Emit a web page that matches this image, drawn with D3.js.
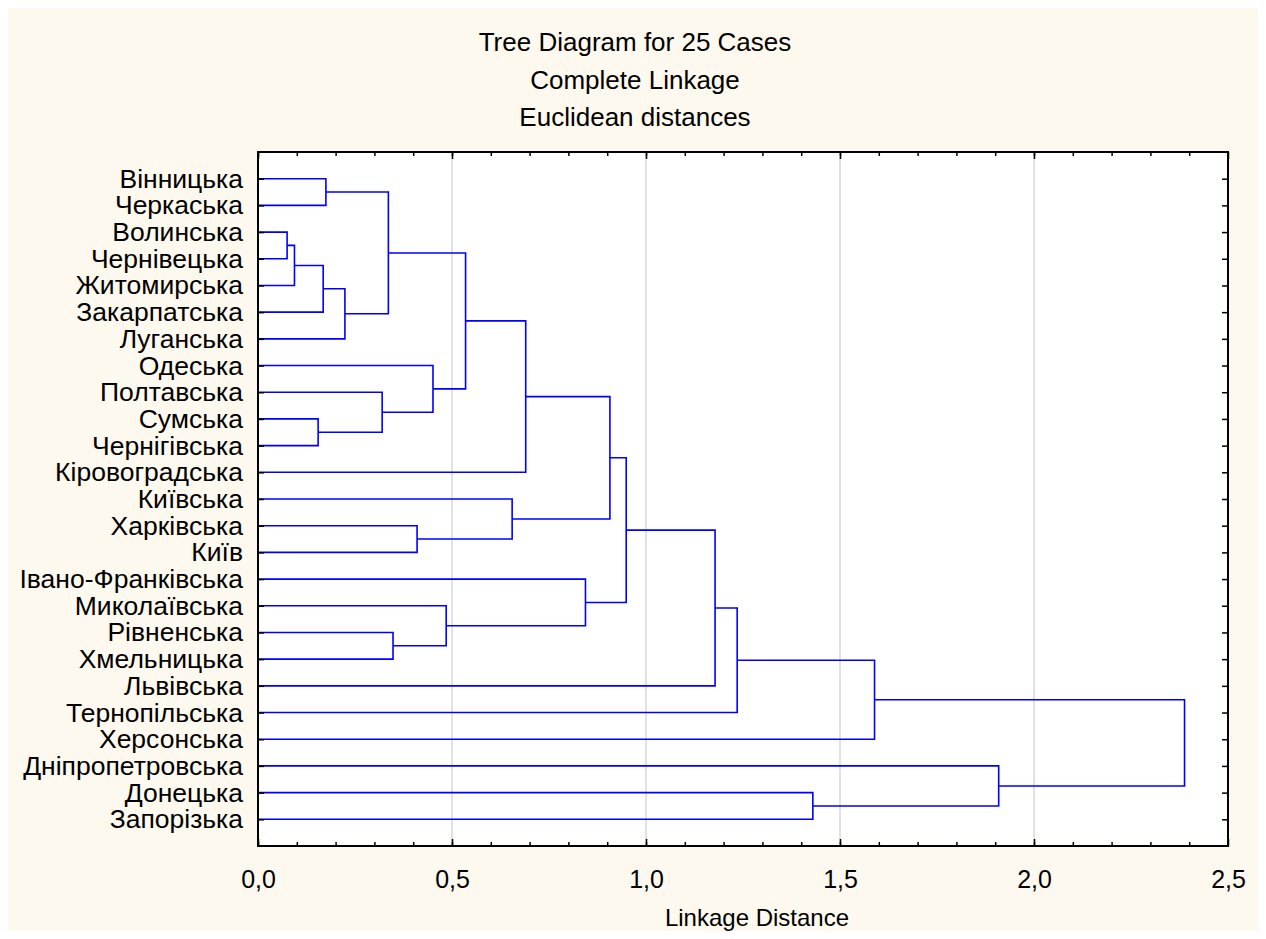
<!DOCTYPE html>
<html>
<head>
<meta charset="utf-8">
<script src="https://cdn.jsdelivr.net/npm/d3@7"></script>
<style>
  body { margin: 0; background: #fff; }
  svg text { font-family: "Liberation Sans", Arial, sans-serif; fill: #000; }
</style>
</head>
<body>
<svg id="chart" width="1266" height="939"></svg>
<script>
// leaves, top to bottom as drawn
const labels = [
  "Вінницька", "Черкаська", "Волинська", "Чернівецька", "Житомирська",
  "Закарпатська", "Луганська", "Одеська", "Полтавська", "Сумська",
  "Чернігівська", "Кіровоградська", "Київська", "Харківська", "Київ",
  "Івано-Франківська", "Миколаївська", "Рівненська", "Хмельницька", "Львівська",
  "Тернопільська", "Херсонська", "Дніпропетровська", "Донецька", "Запорізька"
];

// joins: ids < 25 are leaves, id 25+k is the cluster made by join k
const joinLeft  = [2, 25, 26, 27, 0, 29, 9, 8, 7, 30, 34, 13, 12, 35, 17, 16, 15, 38, 42, 43, 44, 23, 22, 45];
const joinRight = [3, 4, 5, 6, 1, 28, 10, 31, 32, 33, 11, 14, 36, 37, 18, 39, 40, 41, 19, 20, 21, 24, 46, 47];
const joinDist  = [0.075, 0.094, 0.168, 0.224, 0.175, 0.336, 0.155, 0.320, 0.451, 0.535,
                   0.690, 0.410, 0.655, 0.907, 0.348, 0.485, 0.844, 0.949, 1.178, 1.235,
                   1.589, 1.430, 1.909, 2.388];

const xTicks = [0, 0.5, 1.0, 1.5, 2.0, 2.5];
const titleLines = ["Tree Diagram for 25 Cases", "Complete Linkage", "Euclidean distances"];

const W = 1266, H = 939;
const margin = { top: 152, right: 38, bottom: 93, left: 258 };

const svg = d3.select("#chart");

// cream panel
svg.append("rect")
  .attr("x", 8).attr("y", 8)
  .attr("width", W - 16).attr("height", H - 16)
  .attr("fill", "#fdf9ef");

const x = d3.scaleLinear().domain([0, 2.5]).range([margin.left, W - margin.right]);
const y = d3.scalePoint().domain(labels).range([margin.top, H - margin.bottom]).padding(1);

// plot area
svg.append("rect")
  .attr("x", x(0)).attr("y", margin.top)
  .attr("width", x(2.5) - x(0)).attr("height", H - margin.bottom - margin.top)
  .attr("fill", "#fff");

// grid
svg.append("g").selectAll("line")
  .data(xTicks.slice(1, -1))
  .join("line")
  .attr("x1", d => x(d)).attr("x2", d => x(d))
  .attr("y1", margin.top).attr("y2", H - margin.bottom)
  .attr("stroke", "#d9d9d9").attr("stroke-width", 1.5);

// titles
svg.append("g").selectAll("text")
  .data(titleLines)
  .join("text")
  .attr("x", 635)
  .attr("y", (d, i) => 51 + i * 37.5)
  .attr("text-anchor", "middle")
  .attr("font-size", 26)
  .text(d => d);

// dendrogram: work out each node's y and draw the brackets
const nodeY = labels.map(d => y(d));
const nodeX = labels.map(() => 0);
const links = svg.append("g")
  .attr("fill", "none")
  .attr("stroke", "#0000ff")
  .attr("stroke-width", 1.6);

joinDist.forEach((h, k) => {
  const a = joinLeft[k], b = joinRight[k];
  const ya = nodeY[a], yb = nodeY[b];
  links.append("path")
    .attr("d", `M${x(nodeX[a])},${ya}H${x(h)}V${yb}H${x(nodeX[b])}`);
  nodeY.push((ya + yb) / 2);
  nodeX.push(h);
});

// axes
const plotH = H - margin.bottom - margin.top;
const minor = d3.range(0, 25).map(i => i / 10);

svg.append("g")
  .attr("transform", `translate(0,${H - margin.bottom})`)
  .call(d3.axisBottom(x).tickValues(xTicks).tickSize(-7).tickPadding(24)
    .tickFormat(d => d3.format(".1f")(d).replace(".", ",")))
  .call(g => g.select(".domain").remove())
  .call(g => g.selectAll("text").attr("font-size", 25).attr("font-family", null))
  .call(g => g.selectAll("line").attr("stroke-width", 1.5));

svg.append("g")
  .attr("transform", `translate(0,${H - margin.bottom})`)
  .call(d3.axisBottom(x).tickValues(minor).tickSize(-4).tickFormat(""))
  .call(g => g.select(".domain").remove())
  .call(g => g.selectAll("line").attr("stroke-width", 1.5));

svg.append("g")
  .attr("transform", `translate(0,${margin.top})`)
  .call(d3.axisTop(x).tickValues(minor).tickSize(-4).tickFormat(""))
  .call(g => g.select(".domain").remove())
  .call(g => g.selectAll("line").attr("stroke-width", 1.5));

svg.append("g")
  .attr("transform", `translate(0,${margin.top})`)
  .call(d3.axisTop(x).tickValues(xTicks).tickSize(-7).tickFormat(""))
  .call(g => g.select(".domain").remove())
  .call(g => g.selectAll("line").attr("stroke-width", 1.5));

svg.append("g")
  .attr("transform", `translate(${x(0)},0)`)
  .call(d3.axisLeft(y).tickSize(-6).tickPadding(15))
  .call(g => g.select(".domain").remove())
  .call(g => g.selectAll("text").attr("font-size", 26.5).attr("font-family", null))
  .call(g => g.selectAll("line").attr("stroke-width", 1.5));

svg.append("g")
  .attr("transform", `translate(${x(2.5)},0)`)
  .call(d3.axisRight(y).tickSize(-6).tickFormat(""))
  .call(g => g.select(".domain").remove())
  .call(g => g.selectAll("line").attr("stroke-width", 1.5));

// frame
svg.append("rect")
  .attr("x", x(0)).attr("y", margin.top)
  .attr("width", x(2.5) - x(0)).attr("height", plotH)
  .attr("fill", "none").attr("stroke", "#000").attr("stroke-width", 2);

svg.append("text")
  .attr("x", 757)
  .attr("y", 926)
  .attr("text-anchor", "middle")
  .attr("font-size", 24)
  .text("Linkage Distance");
</script>
</body>
</html>
